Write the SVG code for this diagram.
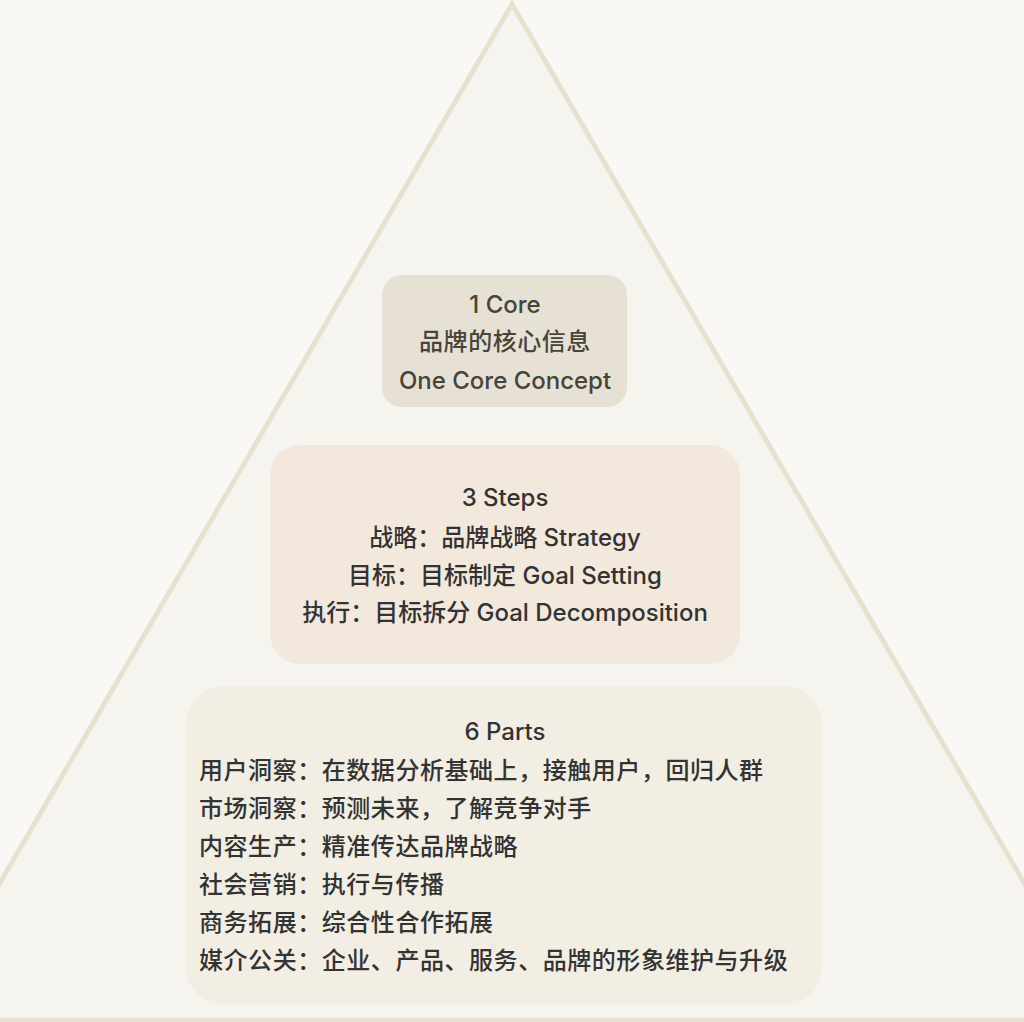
<svg xmlns="http://www.w3.org/2000/svg" width="1024" height="1022" viewBox="0 0 1024 1022">
  <style>
    .t { font-family: Inter, "Noto Sans", "Noto Sans CJK SC", sans-serif; font-size: 24px; font-weight: 500; fill: #333333; }
    .c { text-anchor: middle; }
    .core { fill: #47443a; }
    .cjk { letter-spacing: 0.55px; }
  </style>
  <rect x="0" y="0" width="1024" height="1022" fill="#f9f8f4"/>
  <g id="pyramid">
    <polygon points="512,4 1104,1020 -80,1020" fill="#f6f4ee" stroke="#e8e1cf" stroke-width="5" stroke-linejoin="miter"/>
  </g>
  <g id="connectors"></g>
  <g id="core">
    <rect x="382" y="275" width="245" height="132" rx="20" fill="#e6e0d5"/>
    <text class="t c core" x="505" y="313">1 Core</text>
    <text class="t c core cjk" x="505" y="350">品牌的核心信息</text>
    <text class="t c core" x="505" y="389">One Core Concept</text>
  </g>
  <g id="steps">
    <rect x="270" y="445" width="470" height="219" rx="30" fill="#f2e8dc"/>
    <text class="t c" x="505" y="506">3 Steps</text>
    <text class="t c" x="505" y="546">战略：品牌战略 Strategy</text>
    <text class="t c" x="505" y="584">目标：目标制定 Goal Setting</text>
    <text class="t c" x="505" y="621">执行：目标拆分 Goal Decomposition</text>
  </g>
  <g id="parts">
    <rect x="186" y="686" width="636" height="319" rx="38" fill="#f2eee4"/>
    <text class="t c" x="505" y="740">6 Parts</text>
    <text class="t cjk" x="199" y="779">用户洞察：在数据分析基础上，接触用户，回归人群</text>
    <text class="t cjk" x="199" y="817">市场洞察：预测未来，了解竞争对手</text>
    <text class="t cjk" x="199" y="855">内容生产：精准传达品牌战略</text>
    <text class="t cjk" x="199" y="893">社会营销：执行与传播</text>
    <text class="t cjk" x="199" y="931">商务拓展：综合性合作拓展</text>
    <text class="t cjk" x="199" y="969">媒介公关：企业、产品、服务、品牌的形象维护与升级</text>
  </g>
</svg>
